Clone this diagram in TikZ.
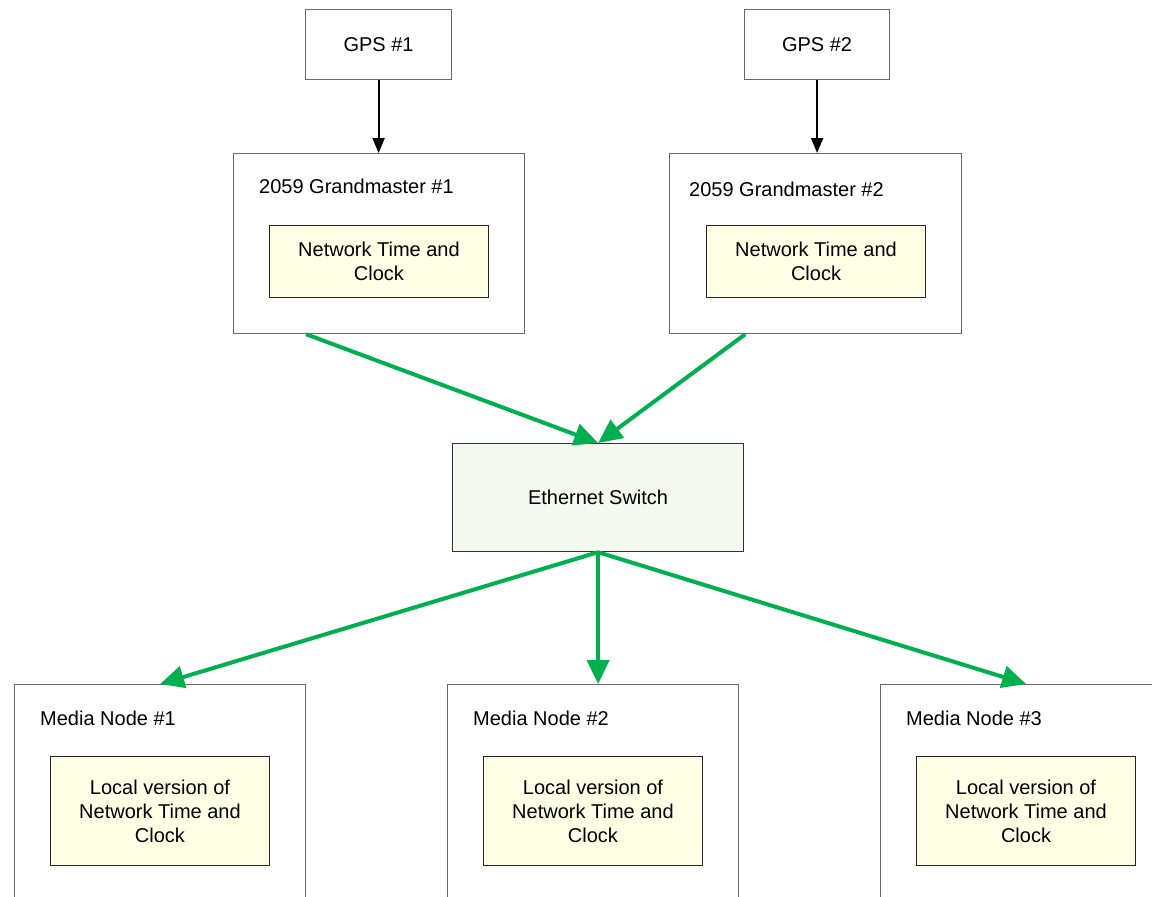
\documentclass[tikz,border=0pt]{standalone}
\usepackage{fontspec}
\setmainfont{Liberation Sans}
\usetikzlibrary{shapes,arrows.meta,backgrounds,positioning,calc}
\definecolor{linkgreen}{HTML}{00B050}
\definecolor{boxgray}{HTML}{6A6A6A}
\definecolor{clockfill}{HTML}{FFFFE6}
\definecolor{switchfill}{HTML}{F3F9EE}
\tikzset{
  box/.style={draw=boxgray, line width=1.2pt, fill=white, anchor=north west, inner sep=0pt},
  boxlabel/.style={anchor=west, inner sep=0pt},
  clockbox/.style={draw=black!85, line width=1pt, fill=clockfill, anchor=north west, inner sep=0pt,
    minimum width=219pt, align=center},
  gpsarrow/.style={-{Triangle[length=15pt,width=12pt]}, line width=2pt},
  linkarrow/.style={-{Triangle[length=24pt,width=22pt]}, draw=linkgreen, line width=4pt}
}

\begin{document}
\begin{tikzpicture}[x=1pt,y=-1pt, font=\fontsize{20}{24}\selectfont]
\clip (0,0) rectangle (1152,897);
\fill[white] (0,0) rectangle (1152,897);
\node[box, minimum width=146pt, minimum height=70pt] (gps1) at (305,9) {GPS \#1};
\node[box, minimum width=145pt, minimum height=70pt] (gps2) at (744,9) {GPS \#2};
\node[box, minimum width=291pt, minimum height=180pt] (gm1) at (233,153) {};
\node[box, minimum width=292pt, minimum height=180pt] (gm2) at (669,153) {};
\node[boxlabel] (gm1lab) at ([xshift=26pt,yshift=-33pt]gm1.north west) {2059 Grandmaster \#1};
\node[boxlabel] (gm2lab) at ([xshift=20pt,yshift=-36pt]gm2.north west) {2059 Grandmaster \#2};
\node[clockbox, minimum height=72pt] (ntc1) at ([xshift=36pt,yshift=-72pt]gm1.north west) {Network Time and\\Clock};
\node[clockbox, minimum height=72pt] (ntc2) at ([xshift=37pt,yshift=-72pt]gm2.north west) {Network Time and\\Clock};
\node[box, draw=black!80, fill=switchfill, minimum width=291pt, minimum height=108pt] (switch) at (452,443) {Ethernet Switch};
\node[box, minimum width=291pt, minimum height=260pt] (media1) at (14,684) {};
\node[box, minimum width=291pt, minimum height=260pt] (media2) at (447,684) {};
\node[box, minimum width=291pt, minimum height=260pt] (media3) at (880,684) {};
\node[boxlabel] (media1lab) at ([xshift=26pt,yshift=-34pt]media1.north west) {Media Node \#1};
\node[boxlabel] (media2lab) at ([xshift=26pt,yshift=-34pt]media2.north west) {Media Node \#2};
\node[boxlabel] (media3lab) at ([xshift=26pt,yshift=-34pt]media3.north west) {Media Node \#3};
\node[clockbox, minimum height=109pt] (local1) at ([xshift=36pt,yshift=-72pt]media1.north west) {Local version of\\Network Time and\\Clock};
\node[clockbox, minimum height=109pt] (local2) at ([xshift=36pt,yshift=-72pt]media2.north west) {Local version of\\Network Time and\\Clock};
\node[clockbox, minimum height=109pt] (local3) at ([xshift=36pt,yshift=-72pt]media3.north west) {Local version of\\Network Time and\\Clock};
% links
\draw[gpsarrow] (gps1.south) -- (gps1.south |- gm1.north);
\draw[gpsarrow] (gps2.south) -- (gps2.south |- gm2.north);
\draw[linkarrow] ($(gm1.south west)!0.25!(gm1.south east)$) -- (switch.north);
\draw[linkarrow] ($(gm2.south west)!0.26!(gm2.south east)$) -- (switch.north);
\draw[linkarrow] (switch.south) -- (media1.north);
\draw[linkarrow] (switch.south) -- (switch.south |- media2.north);
\draw[linkarrow] (switch.south) -- (media3.north);
\end{tikzpicture}
\end{document}
